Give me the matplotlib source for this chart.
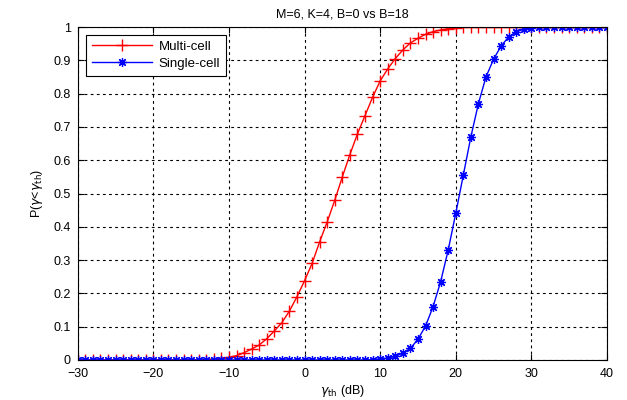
import numpy as np
import matplotlib
matplotlib.use("Agg")
import matplotlib.pyplot as plt

plt.rcParams['font.family'] = ['Liberation Sans', 'DejaVu Sans']

gamma_db = list(range(-30, 41))

multi_cell = ([0.0] * 17 +  # -30 .. -14
              [0.001, 0.003, 0.005, 0.008, 0.013, 0.022, 0.033, 0.045, 0.064,
               0.087, 0.112, 0.147, 0.19, 0.238, 0.29, 0.355, 0.415, 0.48, 0.55,
               0.617, 0.679, 0.734, 0.789, 0.838, 0.874, 0.905, 0.931, 0.952,
               0.966, 0.978, 0.986, 0.991, 0.995, 0.998] +  # -13 .. 20
              [1.0] * 20)  # 21 .. 40

single_cell = ([0.0] * 39 +  # -30 .. 8
               [0.001, 0.003, 0.006, 0.011, 0.021, 0.035, 0.062, 0.102, 0.16,
                0.235, 0.33, 0.44, 0.555, 0.67, 0.77, 0.85, 0.903, 0.943, 0.97,
                0.986, 0.993, 0.997] +  # 9 .. 30
               [1.0] * 10)  # 31 .. 40

x_ticks = [-30, -20, -10, 0, 10, 20, 30, 40]
y_ticks = [0, 0.1, 0.2, 0.3, 0.4, 0.5, 0.6, 0.7, 0.8, 0.9, 1]
y_tick_labels = ['0', '0.1', '0.2', '0.3', '0.4', '0.5', '0.6', '0.7', '0.8', '0.9', '1']

fig = plt.figure(figsize=(6.27, 4.0), dpi=100)
ax = fig.add_axes([0.124, 0.1, 0.844, 0.8325])

ax.plot(gamma_db, multi_cell, color='#ff0000', marker='+', markersize=8,
        linewidth=1.0, markeredgewidth=1.0, label='Multi-cell')
ax.plot(gamma_db, single_cell, color='#0000ff', marker=(8, 2, 0), markersize=6.5,
        linewidth=1.0, markeredgewidth=0.9, label='Single-cell')

ax.set_xlim(-30, 40)
ax.set_ylim(0, 1)
ax.set_xticks(x_ticks)
ax.set_yticks(y_ticks)
ax.set_yticklabels(y_tick_labels)
ax.tick_params(direction='in', labelsize=9, length=4, width=0.8, top=True, right=True,
               labeltop=False, labelright=False)
ax.tick_params(axis='x', pad=6)
ax.tick_params(axis='y', pad=5)
ax.grid(True, color='black', linestyle=(0, (2.5, 3)), linewidth=0.8)
for s in ax.spines.values():
    s.set_linewidth(0.8)

ax.set_title('M=6, K=4, B=0 vs B=18', fontsize=9, pad=7)
ax.set_xlabel(r'$\gamma_{\mathrm{th}}$ (dB)', fontsize=9, labelpad=2)
ax.set_ylabel(r'P($\gamma$<$\gamma_{\mathrm{th}}$)', fontsize=9, labelpad=6)

leg = ax.legend(loc='upper left', fontsize=9.5, fancybox=False, framealpha=1,
                edgecolor='black', borderaxespad=0.6, handlelength=4.6,
                borderpad=0.45, labelspacing=0.35, handletextpad=0.5)
leg.get_frame().set_linewidth(0.8)

fig.savefig('out.png', dpi=100, facecolor='white')
